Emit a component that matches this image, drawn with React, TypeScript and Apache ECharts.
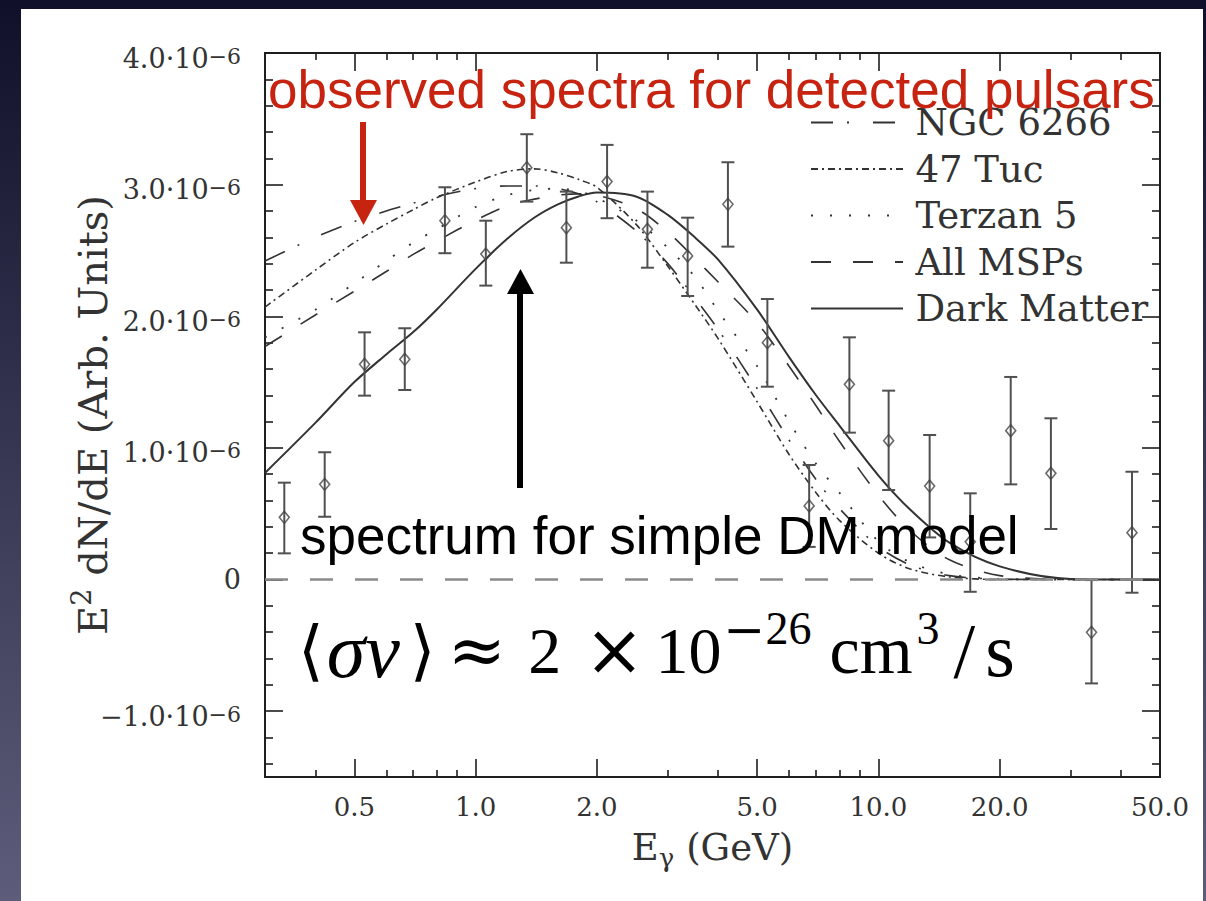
import React, { useEffect, useRef } from 'react';
import * as echarts from 'echarts';

// ---- data (E in GeV, values in units of 10^-6) ----
const curveEnergies = [0.3, 0.4, 0.5, 0.6, 0.7, 0.8, 1.0, 1.2, 1.4, 1.6, 1.8, 2.0, 2.5, 3.0, 3.5, 4.0, 5.0, 6.0, 7.0, 8.0, 10, 12, 15, 20, 30, 50];
const ngc6266 = [2.42, 2.60, 2.72, 2.80, 2.86, 2.91, 2.97, 2.99, 2.99, 2.97, 2.93, 2.87, 2.65, 2.40, 2.14, 1.90, 1.45, 1.06, 0.76, 0.54, 0.25, 0.11, 0.03, 0.003, 0, 0];
const tuc47 = [2.07, 2.35, 2.56, 2.70, 2.81, 2.90, 3.02, 3.10, 3.12, 3.09, 3.04, 2.98, 2.70, 2.38, 2.09, 1.83, 1.35, 0.95, 0.66, 0.45, 0.20, 0.08, 0.02, 0, 0, 0];
const terzan5 = [1.84, 2.05, 2.25, 2.42, 2.56, 2.66, 2.83, 2.92, 2.96, 2.97, 2.95, 2.90, 2.73, 2.52, 2.30, 2.04, 1.62, 1.20, 0.88, 0.66, 0.29, 0.13, 0.04, 0.005, 0, 0];
const allMsps = [1.77, 2.01, 2.19, 2.34, 2.47, 2.57, 2.73, 2.84, 2.89, 2.92, 2.93, 2.92, 2.82, 2.64, 2.44, 2.26, 1.95, 1.62, 1.32, 1.05, 0.64, 0.37, 0.15, 0.03, 0.002, 0];
const darkMatter = [0.81, 1.19, 1.50, 1.71, 1.88, 2.05, 2.36, 2.59, 2.75, 2.85, 2.91, 2.94, 2.91, 2.77, 2.60, 2.43, 2.05, 1.69, 1.40, 1.17, 0.79, 0.53, 0.28, 0.10, 0.005, 0];

const pointEnergies = [0.335, 0.422, 0.530, 0.667, 0.839, 1.06, 1.34, 1.68, 2.12, 2.67, 3.36, 4.23, 5.30, 6.73, 8.47, 10.6, 13.4, 16.9, 21.3, 26.8, 33.8, 42.6];
const pointValues = [0.473, 0.723, 1.635, 1.673, 2.726, 2.473, 3.129, 2.673, 3.023, 2.661, 2.458, 2.851, 1.799, 0.559, 1.483, 1.055, 0.710, 0.287, 1.131, 0.807, -0.401, 0.356];
const pointLow = [0.199, 0.477, 1.397, 1.440, 2.479, 2.233, 2.871, 2.407, 2.745, 2.369, 2.154, 2.529, 1.465, 0.248, 1.116, 0.680, 0.320, -0.093, 0.723, 0.384, -0.789, -0.100];
const pointHigh = [0.736, 0.967, 1.878, 1.909, 2.980, 2.726, 3.383, 2.947, 3.302, 2.947, 2.749, 3.170, 2.131, 0.870, 1.840, 1.435, 1.098, 0.655, 1.539, 1.225, -0.004, 0.819];

const xLabelValues = [0.5, 1, 2, 5, 10, 20, 50];
const xMajorTicks = [0.5, 1, 2, 5, 10, 20];
const xMinorTicks = [0.4, 0.6, 0.7, 0.8, 0.9, 3, 4, 6, 7, 8, 9, 30, 40];
const yMajorTicks = [-1, 0, 1, 2, 3, 4];
const yMinorTicks = [-1.4, -1.2, -0.8, -0.6, -0.4, -0.2, 0.2, 0.4, 0.6, 0.8, 1.2, 1.4, 1.6, 1.8, 2.2, 2.4, 2.6, 2.8, 3.2, 3.4, 3.6, 3.8];
const legendNames = ['NGC 6266', '47 Tuc', 'Terzan 5', 'All MSPs', 'Dark Matter'];

const SERIF = "'DejaVu Serif', serif";
const LSERIF = "'Liberation Serif', serif";
const LINE = '#333333';
const FRAME = '#1e1e1e';

const lg = (v: number) => Math.log10(v);

function App() {
  const ref = useRef<HTMLDivElement>(null);
  useEffect(() => {
    if (!ref.current) return;
    const chart = echarts.init(ref.current, undefined, { renderer: 'svg' });
    const xMin = lg(0.3);
    const xMax = lg(50);

    const xBase = (position: string, ticks: number[], len: number, labels: boolean) => ({
      type: 'value',
      min: xMin,
      max: xMax,
      position,
      axisLine: { show: true, onZero: false, lineStyle: { color: FRAME, width: 1.8 } },
      axisTick: { show: true, inside: true, length: len, customValues: ticks.map(lg), lineStyle: { color: FRAME, width: 1.6 } },
      axisLabel: labels
        ? {
            show: true,
            customValues: xLabelValues.map(lg),
            formatter: (v: number) => Math.pow(10, v).toFixed(1),
            fontFamily: SERIF,
            fontSize: 26,
            color: '#333',
            margin: 17,
          }
        : { show: false },
      splitLine: { show: false },
    });

    const yBase = (position: string, ticks: number[], len: number, labels: boolean) => ({
      type: 'value',
      min: -1.5,
      max: 4,
      position,
      axisLine: { show: true, onZero: false, lineStyle: { color: FRAME, width: 1.8 } },
      axisTick: { show: true, inside: true, length: len, customValues: ticks, lineStyle: { color: FRAME, width: 1.6 } },
      axisLabel: labels
        ? {
            show: true,
            customValues: yMajorTicks,
            margin: 24,
            formatter: (v: number) => {
              if (Math.abs(v) < 1e-9) return '{z|0}';
              const s = Math.abs(v).toFixed(1);
              return `{m|${v < 0 ? '\u2212' : ''}${s}\u00b710}{s|\u22126}`;
            },
            rich: {
              z: { fontFamily: SERIF, fontSize: 27, lineHeight: 30, color: '#333' },
              m: { fontFamily: SERIF, fontSize: 27, lineHeight: 30, color: '#333', padding: [10, 0, 0, 0] },
              s: { fontFamily: SERIF, fontSize: 22, lineHeight: 22, color: '#333', verticalAlign: 'top', padding: [7, 0, 0, 0] },
            },
          }
        : { show: false },
      splitLine: { show: false },
    });

    const toXY = (vals: number[]) => curveEnergies.map((e, i) => [lg(e), vals[i]]);
    const curve = (name: string, vals: number[], type: any, width: number) => ({
      type: 'line',
      name,
      data: toXY(vals),
      smooth: 0.3,
      symbol: 'none',
      itemStyle: { color: LINE, opacity: 0 },
      lineStyle: { color: LINE, width, type },
      z: 3,
    });

    const option: any = {
      animation: false,
      backgroundColor: {
        type: 'linear', x: 0, y: 0, x2: 0, y2: 1,
        colorStops: [{ offset: 0, color: '#10102a' }, { offset: 1, color: '#5d5d7b' }],
      },
      grid: { left: 265, top: 53, right: 46, bottom: 124 },
      xAxis: [
        {
          ...xBase('bottom', xMajorTicks, 18, true),
          name: '{e|E}{g|\u03b3}{e| (GeV)}',
          nameLocation: 'middle',
          nameGap: 46,
          nameTextStyle: {
            rich: {
              e: { fontFamily: SERIF, fontSize: 37, lineHeight: 48, color: '#333' },
              g: { fontFamily: SERIF, fontSize: 26, lineHeight: 26, color: '#333', verticalAlign: 'bottom' },
            },
          },
        },
        xBase('bottom', xMinorTicks, 7, false),
        xBase('top', xMajorTicks, 18, false),
        xBase('top', xMinorTicks, 7, false),
      ],
      yAxis: [
        {
          ...yBase('left', yMajorTicks, 18, true),
          name: '{e|E}{s|2}{e| dN/dE (Arb. Units)}',
          nameLocation: 'middle',
          nameRotate: 90,
          nameGap: 147,
          nameMoveOverlap: false,
          nameTextStyle: {
            rich: {
              e: { fontFamily: SERIF, fontSize: 40, lineHeight: 50, color: '#333' },
              s: { fontFamily: SERIF, fontSize: 27, lineHeight: 27, color: '#333', verticalAlign: 'top' },
            },
          },
        },
        yBase('left', yMinorTicks, 8, false),
        yBase('right', yMajorTicks, 18, false),
        yBase('right', yMinorTicks, 8, false),
      ],
      legend: {
        data: legendNames,
        orient: 'vertical',
        left: 805,
        top: 99,
        itemWidth: 92,
        itemHeight: 30,
        itemGap: 9.5,
        itemStyle: { opacity: 0 },
        formatter: (n: string) => '\u2009' + n,
        textStyle: { fontFamily: SERIF, fontSize: 37, color: '#333', lineHeight: 36 },
      },
      series: [
        {
          type: 'line',
          name: 'zero',
          data: [],
          z: 1,
          markLine: {
            silent: true,
            symbol: 'none',
            label: { show: false },
            lineStyle: { color: '#8a8a8a', width: 2.5, type: [23, 22] },
            data: [{ yAxis: 0 }],
          },
        },
        curve('NGC 6266', ngc6266, [22, 14, 2, 24], 1.6),
        curve('47 Tuc', tuc47, [7, 4, 2, 4], 1.6),
        curve('Terzan 5', terzan5, [2, 17], 1.8),
        curve('All MSPs', allMsps, [20, 22], 1.6),
        curve('Dark Matter', darkMatter, 'solid', 2),
        {
          type: 'custom',
          name: 'errors',
          z: 4,
          data: pointEnergies.map((e, i) => [lg(e), pointLow[i], pointHigh[i]]),
          renderItem: (params: any, api: any) => {
            const lo = api.coord([api.value(0), api.value(1)]);
            const hi = api.coord([api.value(0), api.value(2)]);
            const cap = 6.5;
            const st = { stroke: '#505050', lineWidth: 2 };
            return {
              type: 'group',
              children: [
                { type: 'line', shape: { x1: lo[0], y1: lo[1], x2: hi[0], y2: hi[1] }, style: st },
                { type: 'line', shape: { x1: lo[0] - cap, y1: lo[1], x2: lo[0] + cap, y2: lo[1] }, style: st },
                { type: 'line', shape: { x1: hi[0] - cap, y1: hi[1], x2: hi[0] + cap, y2: hi[1] }, style: st },
              ],
            };
          },
        },
        {
          type: 'scatter',
          name: 'points',
          z: 5,
          symbol: 'diamond',
          symbolSize: [10, 12],
          itemStyle: { color: 'rgba(255,255,255,0)', borderColor: '#444', borderWidth: 1.6 },
          data: pointEnergies.map((e, i) => [lg(e), pointValues[i]]),
        },
      ],
      graphic: [
        { type: 'rect', z: -10, silent: true, shape: { x: 21, y: 9, width: 1182, height: 900 }, style: { fill: '#ffffff' } },
        {
          type: 'text', z: 100, x: 268, y: 89,
          style: { text: 'observed spectra for detected pulsars', fill: '#c62410', font: "53px 'Liberation Sans', Arial, sans-serif", verticalAlign: 'middle', align: 'left' },
        },
        { type: 'rect', z: 100, shape: { x: 360, y: 122, width: 6, height: 80 }, style: { fill: '#c62410' } },
        { type: 'polygon', z: 100, shape: { points: [[350, 200], [377, 200], [363.5, 225]] }, style: { fill: '#c62410' } },
        { type: 'rect', z: 100, shape: { x: 517, y: 290, width: 6, height: 198 }, style: { fill: '#000' } },
        { type: 'polygon', z: 100, shape: { points: [[507, 294], [534, 294], [520.5, 269]] }, style: { fill: '#000' } },
        {
          type: 'text', z: 100, x: 300, y: 535,
          style: { text: 'spectrum for simple DM model', fill: '#000', font: "53px 'Liberation Sans', Arial, sans-serif", verticalAlign: 'middle', align: 'left' },
        },
        {
          type: 'text', z: 100, x: 298, y: 650,
          style: {
            text: '{b|\u27e8}{i|\u03c3v}{b|\u27e9}{o1|\u2248}{n|2}{o2|\u00d7}{n|10}{sm|\u2212}{s|26}{c|cm}{s3|3}{sl|/}{ss|s}',
            align: 'left',
            verticalAlign: 'middle',
            fill: '#000',
            rich: {
              b: { fontFamily: SERIF, fontSize: 66, lineHeight: 90, color: '#000' },
              i: { fontFamily: LSERIF, fontStyle: 'italic', fontSize: 78, lineHeight: 90, color: '#000', padding: [0, 10, 0, 3] },
              o1: { fontFamily: SERIF, fontSize: 70, lineHeight: 90, color: '#000', padding: [0, 22, 0, 12] },
              o2: { fontFamily: SERIF, fontSize: 72, lineHeight: 90, color: '#000', padding: [0, 11, 0, 23] },
              n: { fontFamily: LSERIF, fontSize: 66, lineHeight: 90, color: '#000' },
              c: { fontFamily: LSERIF, fontSize: 68, lineHeight: 90, color: '#000', padding: [0, 0, 0, 18] },
              sm: { fontFamily: SERIF, fontSize: 50, lineHeight: 46, color: '#000', verticalAlign: 'top', padding: [0, 0, 0, 2] },
              s: { fontFamily: LSERIF, fontSize: 46, lineHeight: 46, color: '#000', verticalAlign: 'top' },
              s3: { fontFamily: LSERIF, fontSize: 46, lineHeight: 46, color: '#000', verticalAlign: 'top', padding: [0, 8, 0, 4] },
              sl: { fontFamily: LSERIF, fontSize: 78, lineHeight: 90, color: '#000', padding: [0, 10, 0, 6] },
              ss: { fontFamily: LSERIF, fontSize: 76, lineHeight: 90, color: '#000', padding: [0, 0, 0, 0] },
            },
          },
        },
      ],
    };
    chart.setOption(option);
    return () => chart.dispose();
  }, []);
  return <div ref={ref} style={{ position: 'absolute', left: 0, top: 0, width: 1206, height: 901 }} />;
}

export default App;
